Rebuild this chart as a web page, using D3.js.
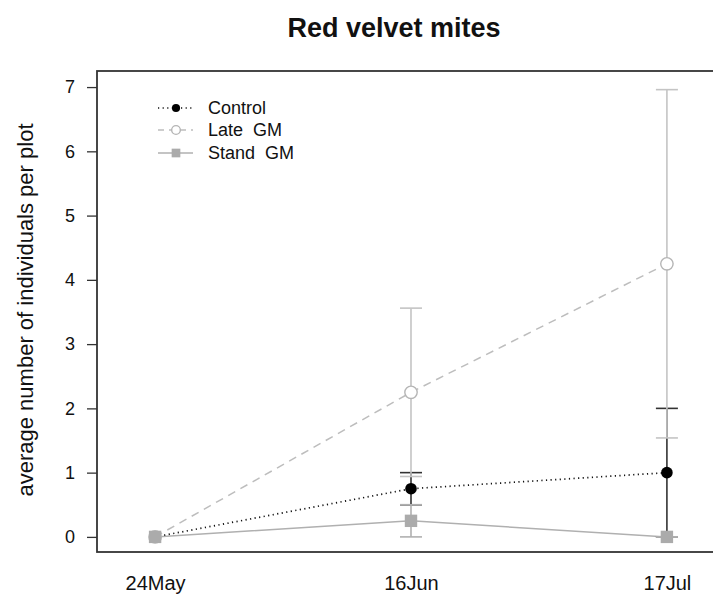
<!DOCTYPE html>
<html>
<head>
<meta charset="utf-8">
<script src="https://cdn.jsdelivr.net/npm/d3@7/dist/d3.min.js"></script>
<style>
  html, body { margin: 0; padding: 0; background: #fff; }
  svg { display: block; font-family: "Liberation Sans", Arial, sans-serif; }
</style>
</head>
<body>
<svg id="chart" width="713" height="595"></svg>
<script>
// Sampling dates
const dates = ["24May", "16Jun", "17Jul"];

// Mean individuals per plot for each treatment
const controlMean = [0, 0.75, 1.0];
const lateMean    = [0, 2.25, 4.25];
const standMean   = [0, 0.25, 0];

// Standard error for each mean (no bar on the first date)
const controlSE = [null, 0.25, 1.0];
const lateSE    = [null, 1.31, 2.71];
const standSE   = [null, 0.25, 0];

const yTicks = [0, 1, 2, 3, 4, 5, 6, 7];

const series = [
  { name: "Control",   mean: controlMean, se: controlSE, line: "#111", dash: "1.2,3.4", width: 1.7, bar: "#333" },
  { name: "Late  GM",  mean: lateMean,    se: lateSE,    line: "#bdbdbd", dash: "8,6",   width: 1.5, bar: "#c4c4c4" },
  { name: "Stand  GM", mean: standMean,   se: standSE,   line: "#b0b0b0", dash: null,    width: 1.5, bar: "#b0b0b0" }
];

const svg = d3.select("#chart");

// Plot region; the frame runs past the right edge of the page
const box = { left: 97, right: 760, top: 71, bottom: 552 };

const x = d3.scalePoint()
  .domain(dates)
  .range([box.left, 725])
  .padding(0.227);

const y = d3.scaleLinear()
  .domain([-0.235, 7.25])
  .range([box.bottom, box.top]);

// Title
svg.append("text")
  .attr("x", 394).attr("y", 37)
  .attr("text-anchor", "middle")
  .style("font-size", "27px").style("font-weight", "bold")
  .attr("fill", "#111")
  .text("Red velvet mites");

// Y axis label
svg.append("text")
  .attr("transform", "translate(33,310) rotate(-90)")
  .attr("text-anchor", "middle")
  .style("font-size", "22px")
  .attr("fill", "#111")
  .text("average number of individuals per plot");

// Y axis ticks
const yAxis = svg.append("g")
  .attr("transform", `translate(${box.left},0)`)
  .call(d3.axisLeft(y).tickValues(yTicks).tickSizeInner(10).tickSizeOuter(0).tickPadding(12));
yAxis.select(".domain").remove();
yAxis.selectAll("line").attr("stroke", "#333").attr("stroke-width", 1.3);
yAxis.selectAll("text").style("font-size", "18px").attr("fill", "#111")
  .attr("font-family", "Liberation Sans, Arial, sans-serif");

// X axis labels
const xAxis = svg.append("g")
  .attr("transform", `translate(0,${box.bottom})`)
  .call(d3.axisBottom(x).tickSize(0).tickPadding(24));
xAxis.select(".domain").remove();
xAxis.selectAll("text").style("font-size", "20px").attr("fill", "#111")
  .attr("font-family", "Liberation Sans, Arial, sans-serif");

// Plot frame
svg.append("rect")
  .attr("x", box.left).attr("y", box.top)
  .attr("width", box.right - box.left).attr("height", box.bottom - box.top)
  .attr("fill", "none").attr("stroke", "#333").attr("stroke-width", 1.8);

// Connecting lines
const lineGen = d3.line().x((d, i) => x(dates[i])).y(d => y(d));
series.slice().reverse().forEach(s => {
  svg.append("path")
    .datum(s.mean)
    .attr("d", lineGen)
    .attr("fill", "none")
    .attr("stroke", s.line)
    .attr("stroke-width", s.width)
    .attr("stroke-dasharray", s.dash);
});

// Error bars
const cap = 11;
series.forEach(s => {
  const g = svg.append("g").attr("stroke", s.bar).attr("stroke-width", 1.6);
  s.mean.forEach((m, i) => {
    const e = s.se[i];
    if (e == null) return;
    const cx = x(dates[i]);
    const lo = Math.max(0, m - e), hi = m + e;
    g.append("line").attr("x1", cx).attr("x2", cx).attr("y1", y(lo)).attr("y2", y(hi));
    g.append("line").attr("x1", cx - cap).attr("x2", cx + cap).attr("y1", y(hi)).attr("y2", y(hi));
    g.append("line").attr("x1", cx - cap).attr("x2", cx + cap).attr("y1", y(lo)).attr("y2", y(lo));
  });
});

// Point markers
function drawMarker(g, name, cx, cy, scale) {
  if (name === "Control") {
    g.append("circle").attr("cx", cx).attr("cy", cy).attr("r", 5.8 * scale).attr("fill", "#000");
  } else if (name === "Late  GM") {
    g.append("circle").attr("cx", cx).attr("cy", cy).attr("r", 6.2 * scale)
      .attr("fill", "#fff").attr("stroke", "#b5b5b5").attr("stroke-width", 1.4);
  } else {
    const h = 6.2 * scale;
    g.append("rect").attr("x", cx - h).attr("y", cy - h).attr("width", 2 * h).attr("height", 2 * h)
      .attr("fill", "#ababab");
  }
}

const pts = svg.append("g");
series.forEach(s => {
  s.mean.forEach((m, i) => drawMarker(pts, s.name, x(dates[i]), y(m), 1));
});

// Legend
const legendRows = [108, 130, 153];
const lg = svg.append("g");
series.forEach((s, i) => {
  const ly = legendRows[i];
  lg.append("line")
    .attr("x1", 158).attr("x2", 193).attr("y1", ly).attr("y2", ly)
    .attr("stroke", s.line).attr("stroke-width", s.width)
    .attr("stroke-dasharray", s.name === "Late  GM" ? "6,5" : s.dash);
  drawMarker(lg, s.name, 176, ly, 0.7);
  lg.append("text")
    .attr("x", 208).attr("y", ly + 6)
    .attr("xml:space", "preserve")
    .style("white-space", "pre")
    .style("font-size", "18px")
    .attr("fill", "#111")
    .text(s.name);
});
</script>
</body>
</html>
